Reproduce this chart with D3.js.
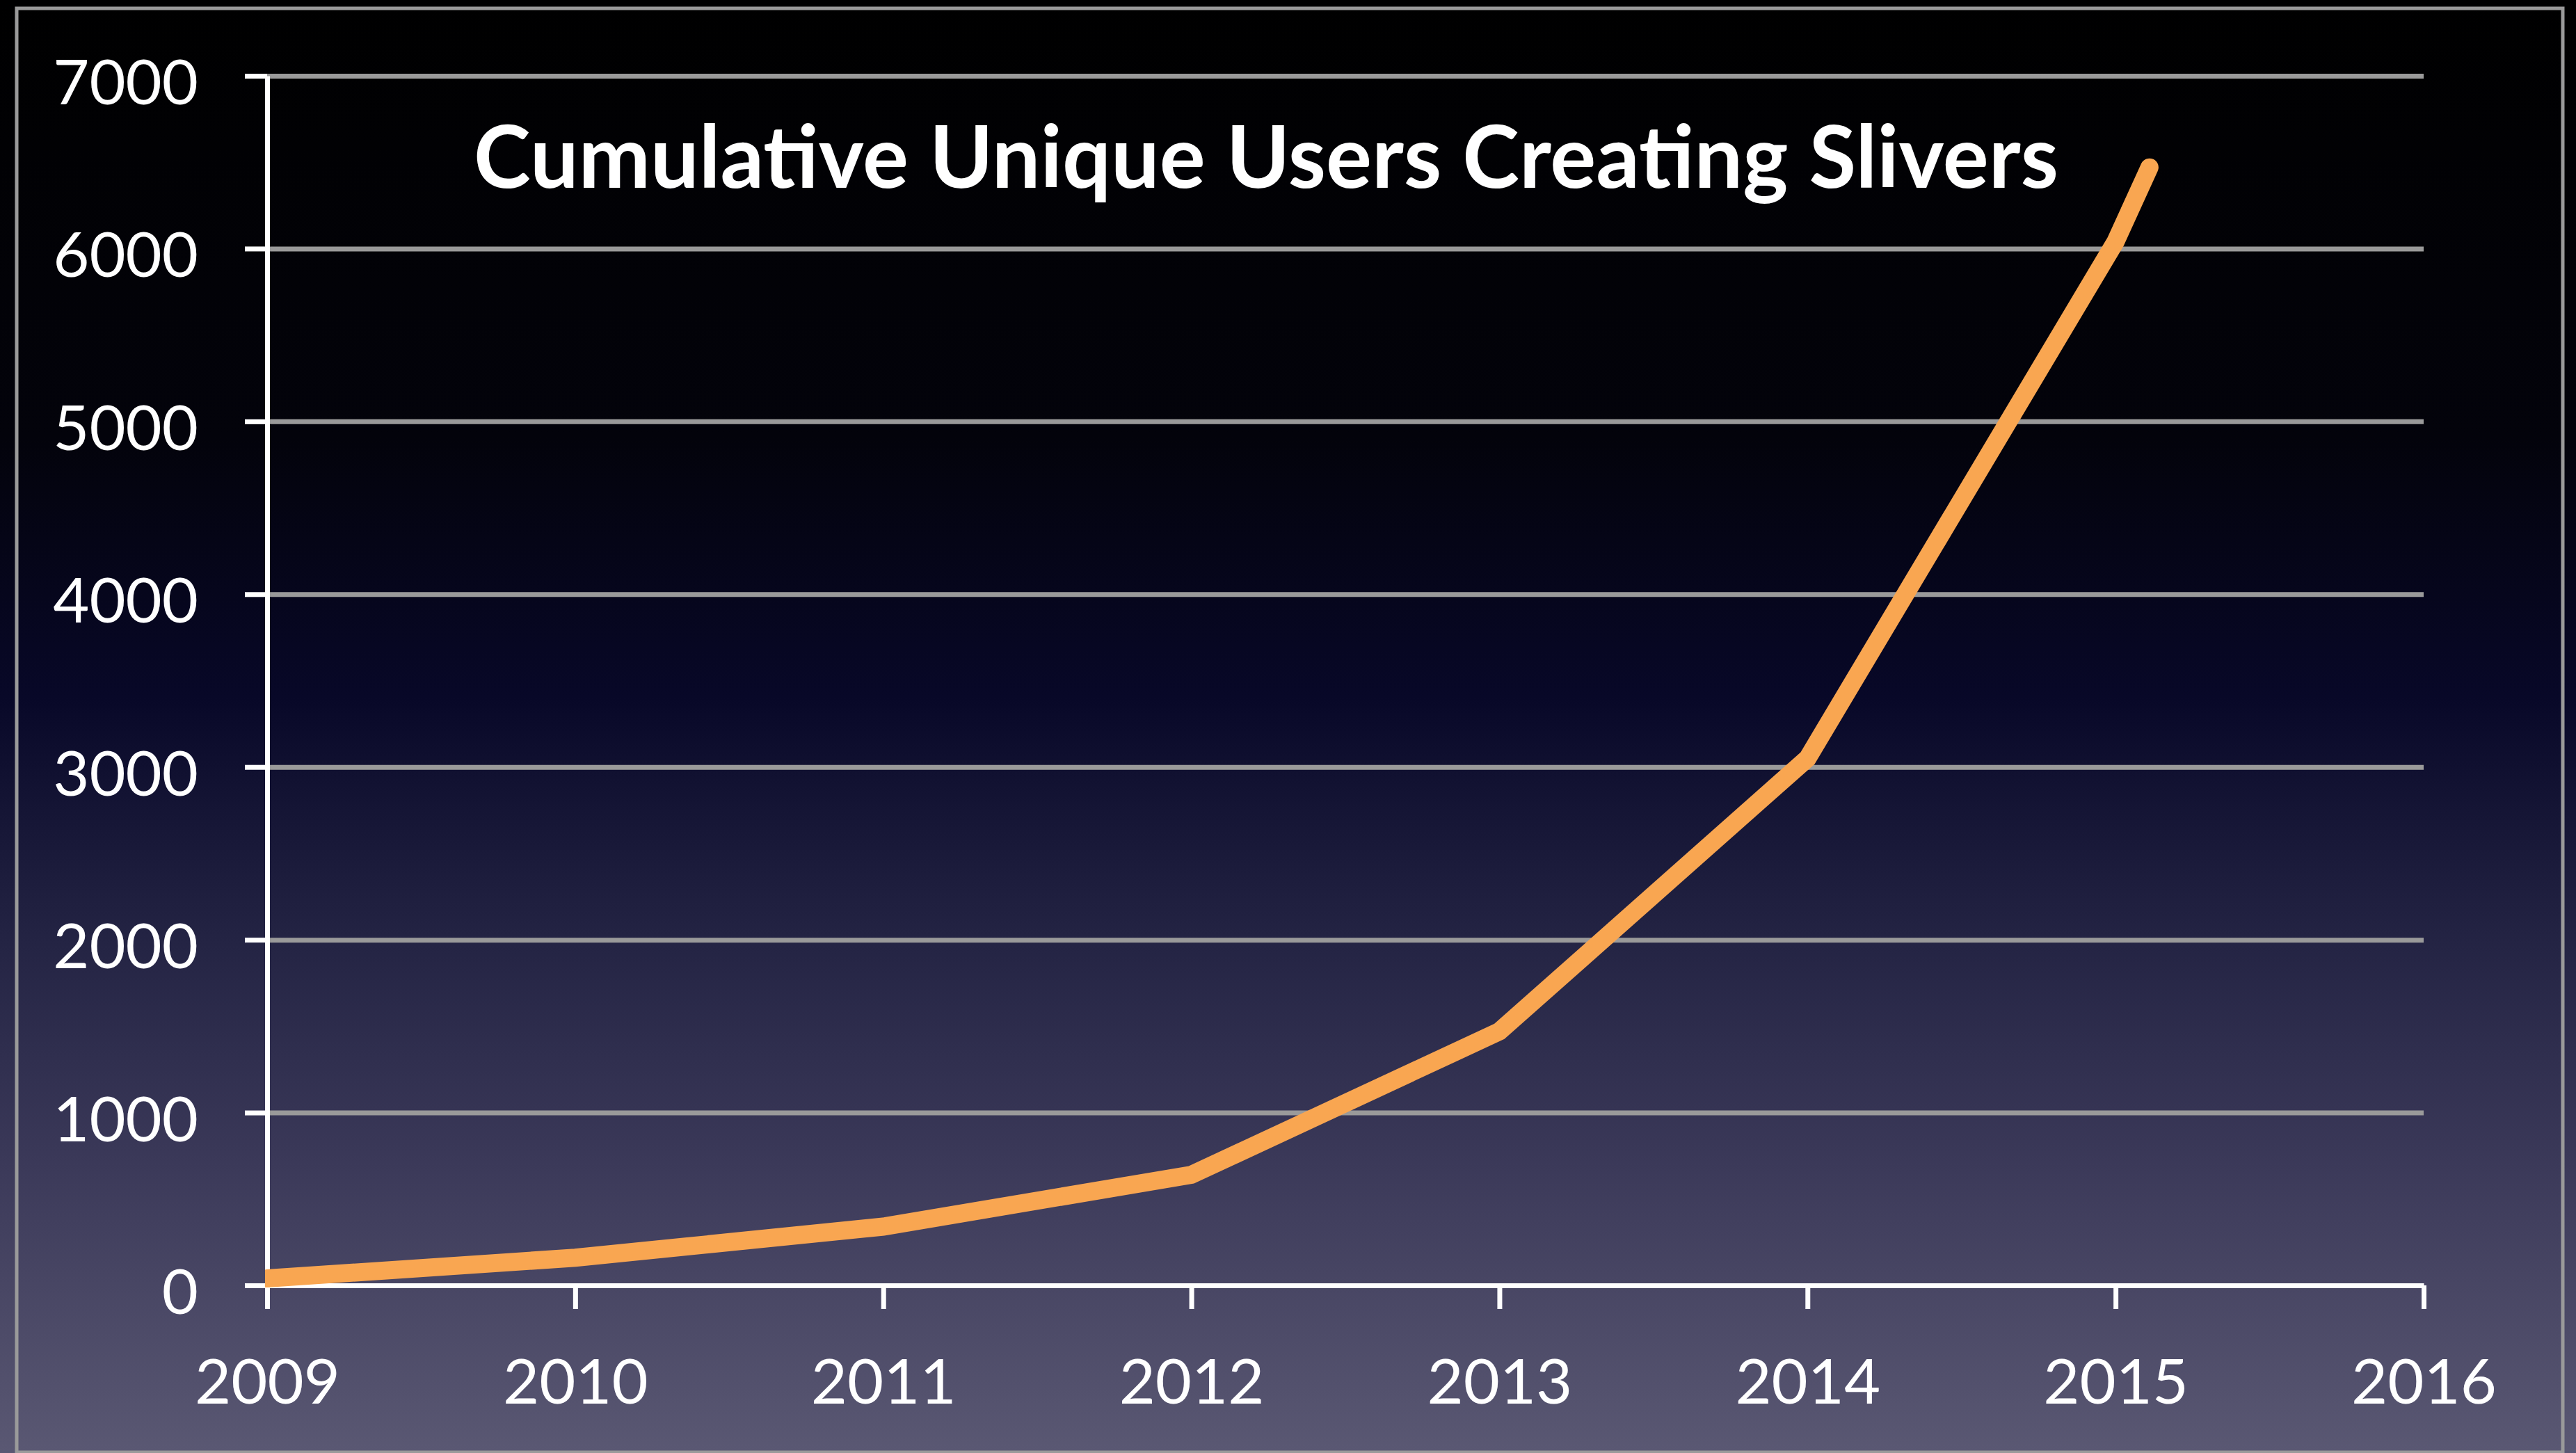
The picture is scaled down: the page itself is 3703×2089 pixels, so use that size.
<!DOCTYPE html>
<html>
<head>
<meta charset="utf-8">
<script src="https://cdn.jsdelivr.net/npm/d3@7"></script>
<style>
  html, body { margin: 0; padding: 0; background: #000; }
  svg { display: block; }
</style>
</head>
<body>
<div id="chart"></div>
<script>
// values
const years = [2009, 2010, 2011, 2012, 2013, 2014, 2015, 2015.11];
const users = [40, 160, 340, 640, 1470, 3050, 6040, 6470];
const yTicks = [0, 1000, 2000, 3000, 4000, 5000, 6000, 7000];
const xTicks = [2009, 2010, 2011, 2012, 2013, 2014, 2015, 2016];
const title = 'Cumulative Unique Users Creating Slivers';

const data = years.map((yr, i) => ({ year: yr, users: users[i] }));

const W = 3703, H = 2089;
const m = { t: 109, r: 219, b: 241, l: 384 };

const svg = d3.select('#chart').append('svg')
  .attr('width', W).attr('height', H);

// slide-style background
const defs = svg.append('defs');
const grad = defs.append('linearGradient')
  .attr('id', 'bg').attr('x1', 0).attr('y1', 0).attr('x2', 0).attr('y2', 1);
[[0, '#000000'], [0.3, '#03030b'], [0.48, '#080828'], [0.65, '#242444'],
 [0.8, '#3b3959'], [1, '#5a5873']].forEach(([o, c]) =>
  grad.append('stop').attr('offset', o).attr('stop-color', c));

svg.append('rect').attr('width', W).attr('height', H).attr('fill', 'url(#bg)');
svg.append('rect')
  .attr('x', 24).attr('y', 12).attr('width', 3660).attr('height', 2076)
  .attr('fill', 'none').attr('stroke', '#9a9a9a').attr('stroke-width', 5);

const x = d3.scaleLinear().domain([2009, 2016]).range([m.l, W - m.r]);
const y = d3.scaleLinear().domain([0, 7000]).range([H - m.b, m.t]);

// gridlines
svg.append('g')
  .attr('transform', `translate(${m.l},0)`)
  .call(d3.axisRight(y).tickValues(yTicks.filter(d => d > 0))
    .tickSize(x(2016) - m.l).tickFormat(''))
  .call(g => g.select('.domain').remove())
  .selectAll('line').attr('stroke', '#9a9a9a').attr('stroke-width', 7);

// y axis
const yAxis = svg.append('g')
  .attr('transform', `translate(${m.l},0)`)
  .call(d3.axisLeft(y).tickValues(yTicks).tickSize(32).tickSizeOuter(0)
    .tickPadding(67).tickFormat(d3.format('d')));
yAxis.select('.domain').attr('stroke', '#fff').attr('stroke-width', 7);
yAxis.selectAll('line').attr('stroke', '#fff').attr('stroke-width', 7);
yAxis.selectAll('text')
  .attr('fill', '#fff').attr('dy', '0.45em')
  .style('font-family', 'Lato, "Open Sans", sans-serif')
  .style('font-size', '90px');

// x axis
const xAxis = svg.append('g')
  .attr('transform', `translate(0,${H - m.b})`)
  .call(d3.axisBottom(x).tickValues(xTicks).tickSize(34).tickSizeOuter(0)
    .tickPadding(72).tickFormat(d3.format('d')));
xAxis.select('.domain').attr('stroke', '#fff').attr('stroke-width', 7);
xAxis.selectAll('line').attr('stroke', '#fff').attr('stroke-width', 7);
xAxis.selectAll('text')
  .attr('fill', '#fff')
  .style('font-family', 'Lato, "Open Sans", sans-serif')
  .style('font-size', '90px');

// the line, cut flat at the y axis
defs.append('clipPath').attr('id', 'plot')
  .append('rect').attr('x', m.l - 3).attr('y', 0)
  .attr('width', W).attr('height', H);

svg.append('path')
  .datum(data)
  .attr('clip-path', 'url(#plot)')
  .attr('fill', 'none')
  .attr('stroke', '#f9a651')
  .attr('stroke-width', 26)
  .attr('stroke-linecap', 'round')
  .attr('stroke-linejoin', 'miter')
  .attr('d', d3.line().x(d => x(d.year)).y(d => y(d.users)));

// title
svg.append('text')
  .attr('x', 681).attr('y', 270)
  .attr('textLength', 2278).attr('lengthAdjust', 'spacingAndGlyphs')
  .attr('fill', '#fff')
  .style('font-family', 'Lato, "Open Sans", sans-serif')
  .style('font-weight', 700)
  .style('font-size', '124px')
  .text(title);
</script>
</body>
</html>
